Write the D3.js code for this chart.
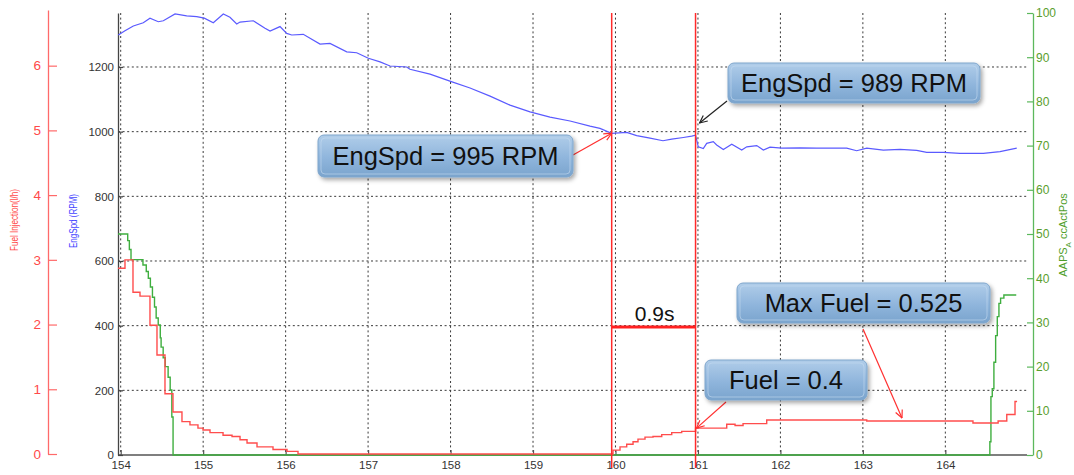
<!DOCTYPE html>
<html>
<head>
<meta charset="utf-8">
<script src="https://cdn.jsdelivr.net/npm/d3@7/dist/d3.min.js"></script>
<style>
  html, body { margin: 0; padding: 0; background: #ffffff; }
  svg { display: block; font-family: "Liberation Sans", Arial, sans-serif; }
</style>
</head>
<body>
<svg id="chart" width="1074" height="475"></svg>
<script>
// ---- Data -------------------------------------------------------------
// Time axis ticks (s)
const timeTicks = [154, 155, 156, 157, 158, 159, 160, 161, 162, 163, 164];
const rpmTicks = [0, 200, 400, 600, 800, 1000, 1200];
const fuelTicks = [0, 1, 2, 3, 4, 5, 6];
const pedalTicks = [0, 10, 20, 30, 40, 50, 60, 70, 80, 90, 100];

// Engine speed (RPM) samples: [time, rpm]
const engSpd = [
  [153.971, 1299], [154.052, 1312], [154.153, 1327], [154.274, 1337], [154.355, 1351],
  [154.456, 1340], [154.517, 1343], [154.659, 1364], [154.800, 1358], [154.922, 1356],
  [155.014, 1351], [155.123, 1337], [155.244, 1364], [155.325, 1354], [155.407, 1333],
  [155.447, 1339], [155.608, 1343], [155.750, 1320], [155.811, 1311], [155.932, 1325],
  [156.013, 1304], [156.074, 1299], [156.214, 1301], [156.417, 1271], [156.538, 1273],
  [156.741, 1247], [156.862, 1244], [157.003, 1227], [157.145, 1216], [157.266, 1203],
  [157.468, 1200], [157.508, 1193], [157.751, 1178], [158.018, 1154], [158.236, 1135],
  [158.479, 1110], [158.721, 1082], [158.964, 1061], [159.206, 1045], [159.449, 1033],
  [159.691, 1017], [159.812, 1010], [159.954, 995], [160.136, 998], [160.257, 988],
  [160.419, 980], [160.576, 972], [160.682, 977], [160.823, 982], [160.924, 986],
  [160.971, 989], [161.004, 953], [161.065, 948], [161.106, 964], [161.186, 969],
  [161.227, 959], [161.308, 945], [161.410, 961], [161.531, 943], [161.592, 953],
  [161.713, 957], [161.793, 943], [161.874, 952], [162.016, 949], [162.238, 950],
  [162.440, 949], [162.642, 949], [162.804, 949], [162.925, 941], [163.047, 949],
  [163.248, 943], [163.450, 945], [163.653, 942], [163.774, 936], [163.976, 936],
  [164.178, 933], [164.461, 933], [164.663, 938], [164.866, 949]
];

// Fuel injection (l/h), sample-and-hold: [time, value]
const fuel = [
  [153.968, 2.87], [154.052, 3.00], [154.149, 2.50], [154.234, 2.44], [154.355, 1.99],
  [154.440, 1.53], [154.537, 0.93], [154.634, 0.65], [154.743, 0.50], [154.840, 0.45],
  [154.937, 0.40], [154.998, 0.37], [155.083, 0.33], [155.241, 0.29], [155.350, 0.27],
  [155.447, 0.22], [155.532, 0.17], [155.653, 0.11], [155.847, 0.07], [156.017, 0.04],
  [156.150, 0.00], [159.970, 0.06], [160.055, 0.11], [160.136, 0.15], [160.213, 0.19],
  [160.273, 0.23], [160.358, 0.26], [160.455, 0.27], [160.561, 0.30], [160.682, 0.33],
  [160.803, 0.35], [160.971, 0.40], [161.349, 0.46], [161.450, 0.44], [161.547, 0.47],
  [161.834, 0.525], [163.047, 0.51], [164.335, 0.48], [164.640, 0.51], [164.745, 0.61],
  [164.845, 0.81], [164.870, 0.81]
];

// Accelerator pedal position (%), sample-and-hold: [time, value]
const pedal = [
  [153.967, 50.0], [154.085, 48.5], [154.105, 46.5], [154.125, 44.2], [154.270, 43.0],
  [154.310, 41.5], [154.335, 40.0], [154.360, 38.0], [154.385, 35.7], [154.410, 33.5],
  [154.430, 31.0], [154.455, 29.4], [154.480, 26.5], [154.490, 24.4], [154.515, 22.0],
  [154.540, 20.0], [154.575, 17.6], [154.600, 14.7], [154.620, 8.6], [154.635, 0.0],
  [164.540, 3.0], [164.553, 13.2], [164.569, 15.0], [164.589, 21.0], [164.610, 27.0],
  [164.630, 31.3], [164.650, 34.3], [164.670, 35.5], [164.710, 36.2], [164.860, 36.2]
];

// Measurement cursors (s)
const cursorTimes = [159.954, 160.971];

// ---- Scales -----------------------------------------------------------
const svg = d3.select("#chart");
const x = d3.scaleLinear().domain([154, 165]).range([120.7, 1027.8]);
const yRpm = d3.scaleLinear().domain([0, 1367]).range([455, 13]);
const yFuel = d3.scaleLinear().domain([0, 6.86]).range([454, 10]);
const yPedal = d3.scaleLinear().domain([0, 100]).range([455, 13]);

const plotLeft = 118, plotRight = 1027, plotTop = 13, plotBottom = 455;

const defs = svg.append("defs");
const grad = defs.append("linearGradient").attr("id", "boxFill")
  .attr("x1", 0).attr("y1", 0).attr("x2", 0).attr("y2", 1);
grad.append("stop").attr("offset", "0%").attr("stop-color", "#b0cde9");
grad.append("stop").attr("offset", "55%").attr("stop-color", "#8fb5dc");
grad.append("stop").attr("offset", "100%").attr("stop-color", "#7aa4cd");

const shadow = defs.append("filter").attr("id", "shadow")
  .attr("x", "-10%").attr("y", "-20%").attr("width", "130%").attr("height", "160%");
shadow.append("feDropShadow").attr("dx", 2).attr("dy", 2.5).attr("stdDeviation", 2)
  .attr("flood-color", "#000").attr("flood-opacity", 0.35);

function arrowMarker(id, color) {
  defs.append("marker").attr("id", id)
    .attr("viewBox", "0 0 10 10").attr("refX", 9.5).attr("refY", 5)
    .attr("markerWidth", 9).attr("markerHeight", 9).attr("markerUnits", "userSpaceOnUse")
    .attr("orient", "auto")
    .append("path").attr("d", "M1,1 L9.5,5 L1,9")
    .attr("fill", "none").attr("stroke", color).attr("stroke-width", 1.3);
}
arrowMarker("arrRed", "#ff3030");
arrowMarker("arrBlack", "#222");

// ---- Grid -------------------------------------------------------------
const grid = svg.append("g").attr("stroke", "#3a3a3a").attr("stroke-width", 1)
  .attr("stroke-dasharray", "2,2.6");
grid.selectAll("line.v").data(timeTicks).join("line").attr("class", "v")
  .attr("x1", d => x(d)).attr("x2", d => x(d))
  .attr("y1", plotTop).attr("y2", plotBottom);
grid.selectAll("line.h").data(rpmTicks.filter(d => d > 0)).join("line").attr("class", "h")
  .attr("x1", plotLeft).attr("x2", plotRight)
  .attr("y1", d => yRpm(d)).attr("y2", d => yRpm(d));

// ---- Axes -------------------------------------------------------------
const intFmt = d3.format("d");
const xAxis = svg.append("g").attr("transform", `translate(0,${plotBottom})`)
  .call(d3.axisBottom(x).tickValues(timeTicks).tickFormat(intFmt)
    .tickSizeInner(-5).tickSizeOuter(0).tickPadding(6));
xAxis.select(".domain").attr("d", `M${plotLeft},0H${plotRight}`);

const rpmAxis = svg.append("g").attr("transform", `translate(${plotLeft},0)`)
  .call(d3.axisLeft(yRpm).tickValues(rpmTicks).tickFormat(intFmt)
    .tickSizeInner(-5).tickSizeOuter(0).tickPadding(4));

const fuelAxis = svg.append("g").attr("transform", "translate(48,0)")
  .call(d3.axisLeft(yFuel).tickValues(fuelTicks).tickFormat(intFmt)
    .tickSizeInner(-9).tickSizeOuter(0).tickPadding(7));

const pedalAxis = svg.append("g").attr("transform", "translate(1033,0)")
  .call(d3.axisRight(yPedal).tickValues(pedalTicks).tickFormat(intFmt)
    .tickSizeInner(-6).tickSizeOuter(0).tickPadding(3));

function styleAxis(g, color, textColor, size) {
  g.attr("font-family", null).attr("font-size", null);
  g.select(".domain").attr("stroke", color).attr("stroke-width", 1.3);
  g.selectAll(".tick line").attr("stroke", color).attr("stroke-width", 1.2);
  g.selectAll(".tick text").attr("fill", textColor).style("font-size", size + "px");
}
styleAxis(xAxis, "#555", "#333", 11.5);
styleAxis(rpmAxis, "#444", "#333", 11.5);
styleAxis(fuelAxis, "#ff6a6a", "#ff4a4a", 13.5);
styleAxis(pedalAxis, "#5cb85c", "#5a9e2e", 12);

// Axis titles
svg.append("text").attr("transform", "translate(18,220) rotate(-90)")
  .attr("text-anchor", "middle").attr("fill", "#ff4a4a").style("font-size", "10.5px")
  .attr("textLength", 62).attr("lengthAdjust", "spacingAndGlyphs")
  .text("Fuel Injection(l/h)");
svg.append("text").attr("transform", "translate(77,221) rotate(-90)")
  .attr("text-anchor", "middle").attr("fill", "#4646ff").style("font-size", "11px")
  .attr("textLength", 54).attr("lengthAdjust", "spacingAndGlyphs")
  .text("EngSpd (RPM)");
const pedalTitle = svg.append("text").attr("transform", "translate(1067,235) rotate(-90)")
  .attr("text-anchor", "middle").attr("fill", "#4f9e2a").style("font-size", "11px");
pedalTitle.append("tspan").text("AAPS");
pedalTitle.append("tspan").attr("dy", 3.5).style("font-size", "8px").text("A");
pedalTitle.append("tspan").attr("dy", -3.5).text(" ccActPos");

// ---- Series -----------------------------------------------------------
defs.append("clipPath").attr("id", "plotClip").append("rect")
  .attr("x", plotLeft).attr("y", plotTop - 2).attr("width", plotRight - plotLeft + 6)
  .attr("height", plotBottom - plotTop + 4);

const series = svg.append("g").attr("clip-path", "url(#plotClip)").attr("fill", "none");

series.append("path").datum(pedal)
  .attr("d", d3.line().x(d => x(d[0])).y(d => yPedal(d[1])).curve(d3.curveStepAfter))
  .attr("stroke", "#3fae3f").attr("stroke-width", 1.4);

series.append("path").datum(fuel)
  .attr("d", d3.line().x(d => x(d[0])).y(d => yFuel(d[1])).curve(d3.curveStepAfter))
  .attr("stroke", "#ff4d4d").attr("stroke-width", 1.4);

series.append("path").datum(engSpd)
  .attr("d", d3.line().x(d => x(d[0])).y(d => yRpm(d[1])))
  .attr("stroke", "#5a5aff").attr("stroke-width", 1.2);

// ---- Cursors and span marker ------------------------------------------
svg.append("g").selectAll("line").data(cursorTimes).join("line")
  .attr("x1", d => x(d)).attr("x2", d => x(d))
  .attr("y1", plotTop).attr("y2", 468)
  .attr("stroke", "#ff2a2a").attr("stroke-width", 1.5);

const spanY = yRpm(396);
svg.append("line")
  .attr("x1", x(cursorTimes[0])).attr("x2", x(cursorTimes[1]))
  .attr("y1", spanY).attr("y2", spanY)
  .attr("stroke", "#ff2020").attr("stroke-width", 3);
svg.append("text").attr("x", (x(cursorTimes[0]) + x(cursorTimes[1])) / 2 + 1).attr("y", spanY - 6)
  .attr("text-anchor", "middle").attr("fill", "#111").style("font-size", "21px")
  .text("0.9s");

// ---- Callouts ---------------------------------------------------------
function callout(box, label, from, to, color, marker) {
  const g = svg.append("g");
  g.append("line").attr("x1", from[0]).attr("y1", from[1]).attr("x2", to[0]).attr("y2", to[1])
    .attr("stroke", color).attr("stroke-width", 1.2).attr("marker-end", `url(#${marker})`);
  g.append("rect").attr("x", box[0]).attr("y", box[1]).attr("width", box[2]).attr("height", box[3])
    .attr("rx", 6).attr("fill", "url(#boxFill)").attr("stroke", "#7fa6cc").attr("stroke-width", 1)
    .attr("filter", "url(#shadow)");
  g.append("rect").attr("x", box[0] + 3).attr("y", box[1] + 3).attr("width", box[2] - 6).attr("height", box[3] - 6)
    .attr("rx", 4).attr("fill", "none").attr("stroke", "#c4dbf0").attr("stroke-opacity", 0.6).attr("stroke-width", 1);
  g.append("text").attr("x", box[0] + box[2] / 2).attr("y", box[1] + box[3] / 2 + 9)
    .attr("text-anchor", "middle").attr("fill", "#111").style("font-size", "25.5px")
    .text(label);
}

const c1 = x(cursorTimes[0]), c2 = x(cursorTimes[1]);
callout([318, 135, 255, 42], "EngSpd = 995 RPM", [573, 155], [c1, yRpm(995)], "#ff3030", "arrRed");
callout([728, 63, 252, 40], "EngSpd = 989 RPM", [727, 101], [c2 + 4, 123], "#222", "arrBlack");
callout([737, 283, 253, 40], "Max Fuel = 0.525", [863, 329], [902, 418], "#ff3030", "arrRed");
callout([705, 360, 162, 40], "Fuel = 0.4", [726, 402], [c2 + 1, yFuel(0.4)], "#ff3030", "arrRed");
</script>
</body>
</html>
